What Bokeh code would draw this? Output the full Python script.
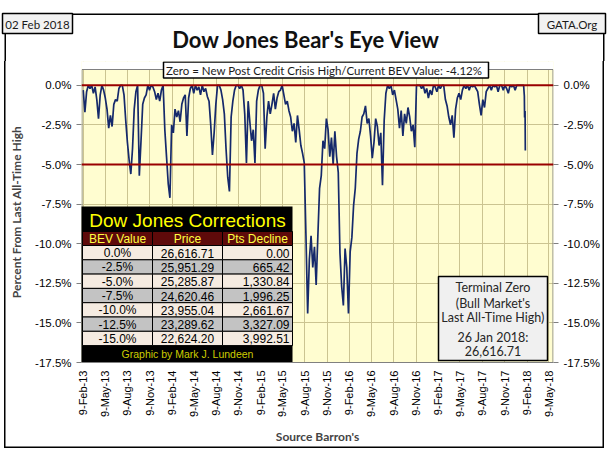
import math
import pandas as pd
from bokeh.plotting import figure
from bokeh.layouts import column
from bokeh.models import (ColumnDataSource, Range1d, FixedTicker, PrintfTickFormatter,
                          LinearAxis, Span)
from bokeh.embed import file_html
from bokeh.resources import INLINE
from bokeh.core.properties import value

# ---------------- data ----------------
week_start = "2013-02-08"
bev_weekly = [
    -0.3, -1.7, -0.4, 0.0, -0.2, 0.0, -0.5, -0.1, -0.9, -2.1,
    -0.6, 0.0, -0.3, -0.8, -1.5, -2.7, -1.9, -2.6, -1.2, -0.9,
    -1.0, -0.2, 0.0, 0.0, -0.6, -2.2, -3.6, -4.7, -5.6, -4.0,
    -1.5, -0.4, 0.0, -5.7, -3.5, -1.2, -0.8, -0.6, 0.0, -0.3,
    0.0, -0.1, -0.4, -0.9, -0.5, -1.0, -0.3, 0.0, -2.8, -4.5,
    -6.2, -7.1, -2.5, -3.0, -1.5, -2.0, -1.6, -2.3, -1.2, -0.8,
    -0.6, -3.2, -0.8, -0.2, 0.0, -0.5, 0.0, -0.3, -0.1, -0.6,
    0.0, -0.4, -0.2, -0.7, -1.0, -2.5, -4.4, -3.0, -1.2, 0.0,
    0.0, -0.3, -0.9, -1.8, -4.0, -5.8, -6.7, -2.0, -1.0, -0.3,
    0.0, 0.0, -0.2, 0.0, -0.3, -1.8, -4.9, -1.0, -2.3, -3.5,
    -2.8, -4.9, -1.0, -0.3, 0.0, 0.0, -0.5, -4.0, -2.0, -1.0,
    -1.8, -1.2, -0.5, -1.5, -0.8, -0.4, -0.3, 0.0, -0.6, -1.2,
    -1.0, -1.6, -2.0, -2.9, -2.4, -3.6, -1.9, -2.8, -3.8, -4.3,
    -4.9, -9.5, -14.4, -11.0, -9.5, -11.5, -10.2, -12.6, -9.5, -6.5,
    -5.7, -3.5, -4.0, -2.1, -2.8, -4.5, -3.3, -5.0, -2.9, -4.5,
    -5.5, -10.6, -12.7, -13.9, -10.3, -11.5, -14.4, -10.5, -9.6, -7.6,
    -6.5, -4.3, -3.4, -2.9, -2.0, -1.8, -1.3, -2.4, -2.1, -3.2,
    -4.6, -3.6, -2.1, -2.6, -3.8, -3.0, -6.3, -2.2, -0.5, 0.0,
    -0.2, 0.0, -0.6, -0.3, -0.9, -1.5, -2.7, -1.6, -3.2, -1.8,
    -2.4, -1.4, -2.0, -2.9, -2.5, -3.9, 0.0, 0.0, 0.0, -0.2,
    0.0, -0.5, -0.2, -0.8, -0.3, -0.6, 0.0, -0.1, -0.4, 0.0,
    -0.2, 0.0, 0.0, -0.9, -1.3, -2.0, -2.5, -1.9, -3.3, -1.5,
    -0.8, -0.5, -0.9, -0.3, 0.0, -0.2, 0.0, -0.3, 0.0, -0.1,
    0.0, -0.2, -0.4, -1.2, -1.9, -0.9, -1.4, -0.4, -0.2, 0.0,
    -0.3, 0.0, -0.1, 0.0, -0.4, 0.0, 0.0, -0.3, 0.0, -0.2,
    -0.5, 0.0, -0.1, 0.0, -0.3, 0.0, 0.0, 0.0, 0.0, 0.0,
]
last_days = ["2018-01-29", "2018-01-30", "2018-01-31", "2018-02-01", "2018-02-02"]
bev_last_days = [-0.67, -2.03, -1.76, -1.62, -4.12]

x_tick_labels = [
    "9-Feb-13", "9-May-13", "9-Aug-13", "9-Nov-13",
    "9-Feb-14", "9-May-14", "9-Aug-14", "9-Nov-14",
    "9-Feb-15", "9-May-15", "9-Aug-15", "9-Nov-15",
    "9-Feb-16", "9-May-16", "9-Aug-16", "9-Nov-16",
    "9-Feb-17", "9-May-17", "9-Aug-17", "9-Nov-17",
    "9-Feb-18", "9-May-18",
]
x_start, x_end = "2013-02-01", "2018-05-29"
y_ticks = [0.0, -2.5, -5.0, -7.5, -10.0, -12.5, -15.0, -17.5]
y_min, y_top = -17.5, 1.0          # y_top: upper edge of the yellow plot area
ref_levels = [0.0, -5.0]

table_title = "Dow Jones Corrections"
table_header = ["BEV Value", "Price", "Pts Decline"]
table_bev = ["0.0%", "-2.5%", "-5.0%", "-7.5%", "-10.0%", "-12.5%", "-15.0%"]
table_price = ["26,616.71", "25,951.29", "25,285.87", "24,620.46", "23,955.04", "23,289.62", "22,624.20"]
table_decline = ["0.00", "665.42", "1,330.84", "1,996.25", "2,661.67", "3,327.09", "3,992.51"]
table_footer = "Graphic by Mark J. Lundeen"

terminal_lines = ["Terminal Zero", "(Bull Market's", "Last All-Time High)", "26 Jan 2018:", "26,616.71"]

title_text = "Dow Jones Bear's Eye View"
subtitle_text = "Zero = New Post Credit Crisis High/Current BEV Value:  -4.12%"
date_text = "02 Feb 2018"
site_text = "GATA.Org"
y_label = "Percent From Last All-Time High"
x_label = "Source Barron's"

# ---------------- layout constants (window pixels) ----------------
W = 610
HDR_H = 61                           # header figure: window y 0 .. 61
PLOT_L, PLOT_R, PLOT_T, PLOT_B = 81, 553, 69, 362   # yellow plot area
FRAME_T = HDR_H                      # main frame starts right below the header

# ---------------- header figure ----------------
hdr = figure(width=W, height=HDR_H, x_range=Range1d(0, W), y_range=Range1d(HDR_H, 0),
             output_backend="svg", toolbar_location=None, min_border=0,
             x_axis_location=None, y_axis_location=None, title=None)
hdr.frame_align = False
hdr.grid.visible = False
hdr.outline_line_color = None
hdr.background_fill_color = "white"
hdr.border_fill_color = "white"

hdr.segment(x0=[4, 4.75, 603.25], y0=[13.75, 13, 13], x1=[604, 4.75, 603.25], y1=[13.75, 80, 80],
            line_color="black", line_width=1.5)
hdr.quad(left=[2, 538], right=[72, 605], top=[13, 13], bottom=[33, 33],
         fill_color="#f2f2f2", line_color="black", line_width=1.5)
hdr.text(x=[37, 571.5], y=[23.5, 23.5], text=[date_text, site_text], text_color="#1a1a1a",
         text_font=value("Lato"), text_font_size="11.5px", text_align="center", text_baseline="middle")
hdr.text(x=[306], y=[38.5], text=[title_text], text_color="#111111", text_font=value("Lato"),
         text_font_style="bold", text_font_size="22px", text_align="center", text_baseline="middle")

# ---------------- main figure ----------------
H = 455 - HDR_H
FW = PLOT_R - PLOT_L
FH = PLOT_B - FRAME_T
px_per_unit = (PLOT_B - PLOT_T) / (y_top - y_min)
y_frame_max = y_top + (PLOT_T - FRAME_T) / px_per_unit

dates = list(pd.date_range(week_start, periods=len(bev_weekly), freq="7D")) + list(pd.to_datetime(last_days))
src = ColumnDataSource(dict(x=dates, y=bev_weekly + bev_last_days))

p = figure(width=W, height=H, x_axis_type="datetime",
           x_range=Range1d(pd.Timestamp(x_start), pd.Timestamp(x_end)),
           y_range=Range1d(y_min, y_frame_max), title=None,
           output_backend="svg", toolbar_location=None,
           min_border_left=PLOT_L, min_border_right=W - PLOT_R,
           min_border_top=0, min_border_bottom=H - FH)
p.frame_align = False
p.background_fill_color = "#fffdd0"
p.border_fill_color = None
p.outline_line_color = None
p.styles = {"box-shadow": ("inset 4px 0 0 0 #fff, inset -6px 0 0 0 #fff, inset 0 -7px 0 0 #fff, "
                           "inset 5.5px 0 0 0 #000, inset -7.5px 0 0 0 #000, inset 0 -8.5px 0 0 #000")}

grid_col = "#cbc491"
p.xgrid.grid_line_color = grid_col
p.ygrid.grid_line_color = grid_col

tick_ms = [float(pd.to_datetime(s, format="%d-%b-%y").value // 10**6) for s in x_tick_labels]
xa = p.xaxis[0]
xa.ticker = FixedTicker(ticks=tick_ms)
xa.major_label_overrides = {t: s for t, s in zip(tick_ms, x_tick_labels)}
xa.major_label_orientation = math.pi / 2
xa.major_tick_out = 0
xa.major_tick_in = 0
xa.major_tick_line_color = None
xa.minor_tick_line_color = None
xa.axis_line_color = "#808080"
xa.major_label_text_font = "Liberation Sans"
xa.major_label_text_font_size = "11px"
xa.major_label_text_color = "black"
xa.major_label_standoff = 8
xa.axis_label = x_label
xa.axis_label_text_font = "Lato"
xa.axis_label_text_font_style = "bold"
xa.axis_label_text_font_size = "12px"
xa.axis_label_standoff = 9


def style_y(ax):
    ax.ticker = FixedTicker(ticks=y_ticks)
    ax.formatter = PrintfTickFormatter(format="%.1f%%")
    ax.major_tick_out = 5
    ax.major_tick_in = 0
    ax.minor_tick_line_color = None
    ax.major_tick_line_color = "#808080"
    ax.axis_line_color = None
    ax.major_label_text_font = "Liberation Sans"
    ax.major_label_text_font_size = "11.5px"
    ax.major_label_text_color = "black"
    ax.major_label_standoff = 5


ya = p.yaxis[0]
style_y(ya)
ya.axis_label = y_label
ya.axis_label_text_font = "Lato"
ya.axis_label_text_font_style = "bold"
ya.axis_label_text_font_size = "12px"
ya.axis_label_standoff = 8

ra = LinearAxis()
style_y(ra)
p.add_layout(ra, "right")

for lvl in ref_levels:
    p.add_layout(Span(location=lvl, dimension="width", line_color="#990000", line_width=2))

p.line("x", "y", source=src, line_color="#15296b", line_width=1.7)

# ---------------- pixel-space overlays inside the frame (window pixels) ----------------
p.extra_x_ranges = {"px": Range1d(PLOT_L, PLOT_R)}
p.extra_y_ranges = {"py": Range1d(PLOT_B, FRAME_T)}
PX = dict(x_range_name="px", y_range_name="py")

# white strip above the plot area and the plot-area border
p.quad(left=[PLOT_L - 2], right=[PLOT_R + 2], top=[FRAME_T - 2], bottom=[PLOT_T],
       fill_color="white", line_color=None, **PX)
p.quad(left=[PLOT_L + 0.5], right=[PLOT_R - 0.5], top=[PLOT_T], bottom=[PLOT_B],
       fill_color=None, line_color="#808080", line_width=1, **PX)

# subtitle box
p.quad(left=[163], right=[488], top=[61.5], bottom=[77.5], fill_color="white",
       line_color="black", line_width=1.5, **PX)
p.text(x=[325.5], y=[69.5], text=[subtitle_text], text_color="#1a1a1a", text_font=value("Lato"),
       text_font_size="11.5px", text_align="center", text_baseline="middle", **PX)

# corrections table
T_TOP, T_HEAD, T_ROWS, ROW_H = 206, 231, 245, 14.3
COLS = [82, 152, 222, 292]

p.quad(left=[80], right=[COLS[-1]], top=[T_TOP], bottom=[PLOT_B], fill_color="black", line_color=None, **PX)
p.quad(left=COLS[:3], right=COLS[1:], top=[T_HEAD] * 3, bottom=[T_ROWS] * 3,
       fill_color="#5e0a0a", line_color="black", line_width=1, **PX)

cl, cr, ct, cb, cf = [], [], [], [], []
for r in range(len(table_bev)):
    for c in range(3):
        cl.append(COLS[c]); cr.append(COLS[c + 1])
        ct.append(T_ROWS + r * ROW_H); cb.append(T_ROWS + (r + 1) * ROW_H)
        cf.append("#f5ebe1" if r % 2 == 0 else "#c3c3c3")
p.quad(left=cl, right=cr, top=ct, bottom=cb, fill_color=cf, line_color="black", line_width=1, **PX)

mid_x = (COLS[0] + COLS[-1]) / 2
p.text(x=[mid_x], y=[(T_TOP + T_HEAD) / 2 + 1], text=[table_title], text_color="#ffff00",
       text_font=value("Liberation Sans"), text_font_size="19px", text_align="center", text_baseline="middle", **PX)
p.text(x=[(COLS[c] + COLS[c + 1]) / 2 for c in range(3)], y=[(T_HEAD + T_ROWS) / 2 + 0.5] * 3, text=table_header,
       text_color="#ffff40", text_font=value("Liberation Sans"), text_font_size="12px",
       text_align="center", text_baseline="middle", **PX)
row_y = [T_ROWS + (r + 0.5) * ROW_H + 0.5 for r in range(len(table_bev))]
p.text(x=[(COLS[0] + COLS[1]) / 2] * len(row_y), y=row_y, text=table_bev, text_color="black",
       text_font=value("Liberation Sans"), text_font_size="12px", text_align="center", text_baseline="middle", **PX)
p.text(x=[(COLS[1] + COLS[2]) / 2] * len(row_y), y=row_y, text=table_price, text_color="black",
       text_font=value("Liberation Sans"), text_font_size="12px", text_align="center", text_baseline="middle", **PX)
p.text(x=[COLS[3] - 3] * len(row_y), y=row_y, text=table_decline, text_color="black",
       text_font=value("Liberation Sans"), text_font_size="12px", text_align="right", text_baseline="middle", **PX)
foot_top = T_ROWS + len(table_bev) * ROW_H
p.text(x=[mid_x], y=[(foot_top + PLOT_B) / 2], text=[table_footer], text_color="#cccc00",
       text_font=value("Liberation Sans"), text_font_size="10.5px", text_align="center", text_baseline="middle", **PX)

# terminal zero box
p.quad(left=[438], right=[547], top=[276], bottom=[360], fill_color="#f0f0f0", line_color="black",
       line_width=1.5, **PX)
p.text(x=[492.5] * len(terminal_lines), y=[287, 303, 317, 337, 350], text=terminal_lines, text_color="#262626",
       text_font=value("Lato"), text_font_size="12.5px", text_align="center", text_baseline="middle", **PX)

layout = column(hdr, p, spacing=0)
open("out.html", "w").write(file_html(layout, INLINE))
